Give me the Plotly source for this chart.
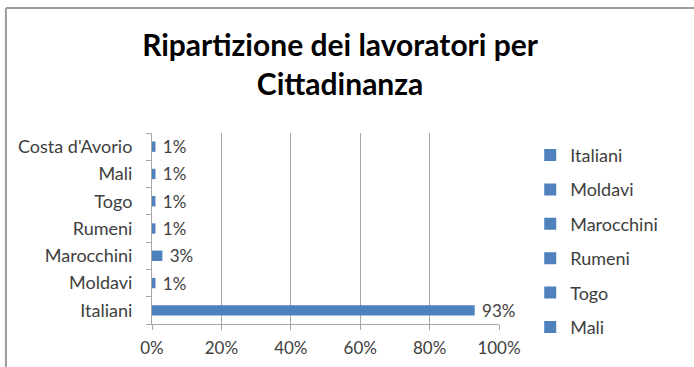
import plotly.graph_objects as go

# Categories (bottom to top) and their share of workers, in percent
categories = ["Italiani", "Moldavi", "Marocchini", "Rumeni", "Togo", "Mali", "Costa d'Avorio"]
shares = [93, 1, 3, 1, 1, 1, 1]
legend_shown = ["Italiani", "Moldavi", "Marocchini", "Rumeni", "Togo", "Mali"]

x_ticks = [0, 20, 40, 60, 80, 100]
x_tick_labels = ["0%", "20%", "40%", "60%", "80%", "100%"]

BAR = "#4F81BD"
TEXT = "#404040"
GRID = "#A6A6A6"
FONT = "Lato, Open Sans, sans-serif"

fig = go.Figure()
for i, (cat, val) in enumerate(zip(categories, shares)):
    fig.add_trace(go.Bar(
        y=[cat], x=[val], orientation="h", name=cat,
        marker=dict(color=BAR, line=dict(width=0)),
        width=0.38,
        text=[f" {val}%"], textposition="outside", cliponaxis=False,
        constraintext="none",
        textfont=dict(size=17, color=TEXT, family=FONT),
        showlegend=cat in legend_shown,
        legendgroup=cat,
        legendrank=i,
        hoverinfo="skip",
    ))

fig.update_layout(
    width=694, height=367,
    barmode="overlay",
    paper_bgcolor="white", plot_bgcolor="white",
    margin=dict(l=152, r=195, t=133, b=43, autoexpand=False),
    font=dict(family=FONT, size=17, color=TEXT),
    title=dict(
        text="Ripartizione dei lavoratori per<br>Cittadinanza",
        x=0.49, xanchor="center", y=0.848, yanchor="top",
        font=dict(size=30, color="#000000", family=FONT, weight="bold"),
    ),
    xaxis=dict(
        range=[0, 100], tickvals=x_ticks, ticktext=x_tick_labels,
        showgrid=True, gridcolor=GRID, gridwidth=1,
        showline=True, linecolor=GRID, linewidth=1,
        ticks="outside", ticklen=5, tickcolor=GRID,
        zeroline=False, fixedrange=True,
        tickfont=dict(size=17, color=TEXT),
        ticklabelstandoff=4,
    ),
    yaxis=dict(
        type="category", categoryorder="array", categoryarray=categories,
        range=[-0.5, len(categories) - 0.5],
        showline=True, linecolor=GRID, linewidth=1,
        ticks="outside", ticklen=5, tickcolor=GRID, tickson="boundaries",
        showgrid=False, zeroline=False,
        tickfont=dict(size=18, color=TEXT),
        ticklabelstandoff=15,
    ),
    legend=dict(
        x=1.09, xanchor="left", y=0.98, yanchor="top",
        traceorder="grouped", tracegroupgap=8,
        font=dict(size=18, color=TEXT),
        itemwidth=30, bgcolor="rgba(0,0,0,0)",
        maxheight=340,
    ),
    shapes=[
        # chart frame: top and left edges
        dict(type="line", xref="paper", yref="paper", x0=-0.421, x1=1.6, y0=1.655, y1=1.655,
             line=dict(color="#9C9C9C", width=2)),
        dict(type="line", xref="paper", yref="paper", x0=-0.421, x1=-0.421, y0=1.655, y1=-0.3,
             line=dict(color="#9C9C9C", width=2)),
    ],
)

fig.write_html("out.html")
